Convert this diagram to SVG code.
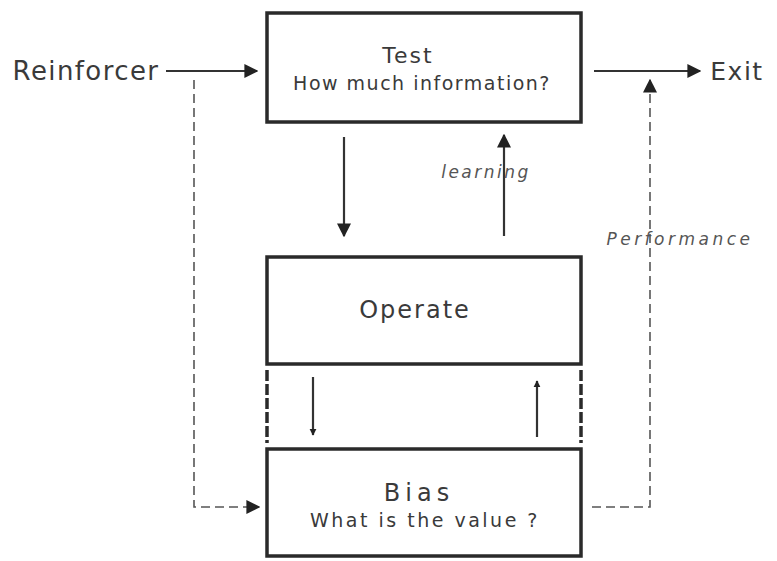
<svg xmlns="http://www.w3.org/2000/svg" width="777" height="561" viewBox="0 0 777 561">
<style>
.box{fill:#fff;stroke:#2a2a2a;stroke-width:3.5}
.t{font-family:"DejaVu Sans","Liberation Sans",sans-serif;fill:#3a3a3a;text-anchor:middle}
.it{font-style:italic;font-size:17px;fill:#555}
.ln{stroke:#333;stroke-width:2.2;fill:none}
.ds{stroke:#555;stroke-width:1.6;fill:none;stroke-dasharray:9 5}
.gd{stroke:#2a2a2a;stroke-width:3.5;fill:none;stroke-dasharray:11 3}
</style>
<defs>
<marker id="ah" viewBox="0 0 10 10" refX="9" refY="5" markerWidth="7" markerHeight="8" orient="auto" markerUnits="userSpaceOnUse">
<path d="M0,0 L10,5 L0,10 z" fill="#222"/>
</marker>
<marker id="ahb" viewBox="0 0 10 10" refX="9" refY="5" markerWidth="14" markerHeight="16" orient="auto" markerUnits="userSpaceOnUse">
<path d="M0,0 L10,5 L0,10 z" fill="#222"/>
</marker>
</defs>
<rect width="777" height="561" fill="#fff"/>
<g id="reinforcer"><text class="t" x="86" y="80" font-size="26" letter-spacing="1.4">Reinforcer</text></g>
<g id="exit"><text class="t" x="737" y="80" font-size="25" letter-spacing="1.5">Exit</text></g>
<g id="test">
<rect class="box" x="267" y="13" width="314" height="109"/>
<text class="t" x="408" y="63" font-size="22" letter-spacing="2">Test</text>
<text class="t" x="422" y="90" font-size="19" letter-spacing="1.5">How much information?</text>
</g>
<g id="operate">
<rect class="box" x="267" y="257" width="314" height="107"/>
<text class="t" x="415" y="318" font-size="24" letter-spacing="2">Operate</text>
</g>
<g id="bias">
<rect class="box" x="267" y="449" width="314" height="107"/>
<text class="t" x="419" y="501" font-size="24" letter-spacing="5">Bias</text>
<text class="t" x="425" y="527" font-size="19" letter-spacing="2.5">What is the value ?</text>
</g>
<g id="connectors">
<line class="ln" x1="166" y1="71" x2="257" y2="71" marker-end="url(#ahb)"/>
<line class="ln" x1="594" y1="71" x2="700" y2="71" marker-end="url(#ahb)"/>
<line class="ln" x1="344" y1="137" x2="344" y2="236" marker-end="url(#ahb)"/>
<line class="ln" x1="504" y1="236" x2="504" y2="135" marker-end="url(#ahb)"/>
<line class="ln" x1="313" y1="377" x2="313" y2="435" marker-end="url(#ah)"/>
<line class="ln" x1="537" y1="437" x2="537" y2="381" marker-end="url(#ah)"/>
<line class="gd" x1="267" y1="370" x2="267" y2="443"/>
<line class="gd" x1="581" y1="370" x2="581" y2="443"/>
<path class="ds" d="M194,80 V507 H259" marker-end="url(#ahb)"/>
<path class="ds" d="M592,507 H650 V80" marker-end="url(#ahb)"/>
<text class="t it" x="486" y="178" letter-spacing="2.5">learning</text>
<text class="t it" x="680" y="245" letter-spacing="3.5">Performance</text>
</g>
</svg>
